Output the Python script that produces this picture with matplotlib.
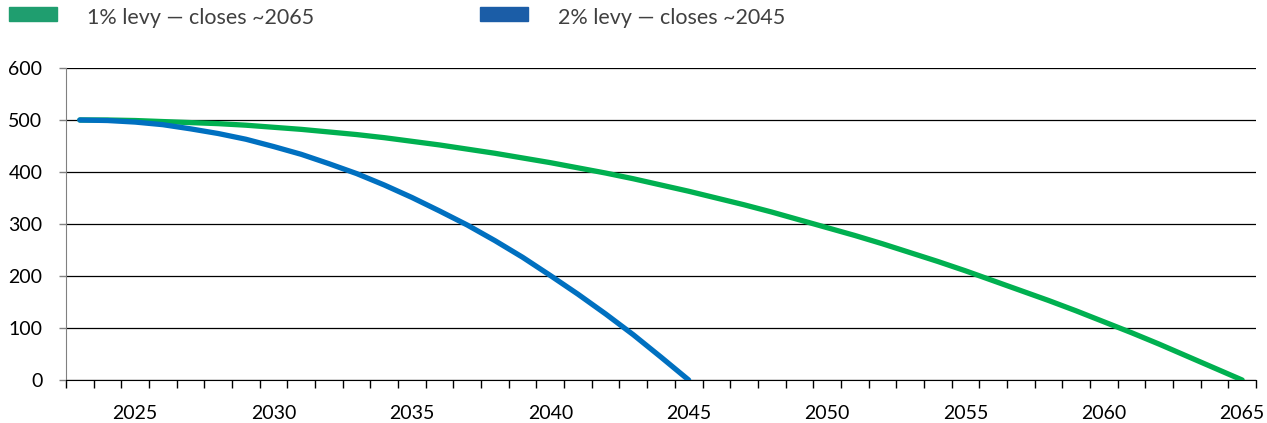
import matplotlib
matplotlib.use("Agg")
import matplotlib.pyplot as plt
from matplotlib.patches import Rectangle
from matplotlib.ticker import MultipleLocator

# datos
anios_1 = list(range(2023, 2066))
saldo_1 = [500, 500, 499, 497, 495, 493, 490, 486, 482, 477,
           472, 466, 459, 452, 444, 436, 427, 418, 408, 398,
           387, 375, 363, 350, 337, 323, 308, 293, 278, 262,
           245, 228, 210, 191, 172, 153, 133, 112, 91, 69,
           46, 23, 0]
anios_2 = list(range(2023, 2046))
saldo_2 = [500, 499, 496, 491, 483, 474, 463, 449, 434, 416,
           397, 375, 351, 325, 298, 268, 236, 201, 165, 127,
           87, 44, 0]
etiquetas = ["1% levy \u2014 closes ~2065", "2% levy \u2014 closes ~2045"]
etiquetas_x = [2025, 2030, 2035, 2040, 2045, 2050, 2055, 2060, 2065]

plt.rcParams['font.family'] = ['Lato', 'DejaVu Sans']

fig = plt.figure(figsize=(12.67, 4.23), dpi=100)
ax = fig.add_axes([66 / 1267, 1 - 380 / 423, 1190 / 1267, 312 / 423])

ax.plot(anios_1, saldo_1, color='#00B050', lw=3.8, solid_capstyle='round', zorder=3)
ax.plot(anios_2, saldo_2, color='#0070C0', lw=3.8, solid_capstyle='round', zorder=3)

ax.set_xlim(2022.5, 2065.5)
ax.set_ylim(0, 600)
ax.set_yticks(range(0, 601, 100))
ax.yaxis.grid(True, color='black', lw=0.9)
ax.set_axisbelow(True)

ax.set_xticks(etiquetas_x)
ax.set_xticklabels([str(a) for a in etiquetas_x])
ax.xaxis.set_minor_locator(MultipleLocator(1, offset=0.5))
ax.tick_params(axis='x', which='major', length=0, pad=18, labelsize=14, labelcolor='black')
ax.tick_params(axis='x', which='minor', length=6, width=1, color='black', direction='out')
ax.tick_params(axis='y', length=5, width=1, color='#808080', pad=12, labelsize=14)

for lado in ['top', 'right']:
    ax.spines[lado].set_visible(False)
ax.spines['left'].set_color('#808080')
ax.spines['bottom'].set_color('black')

# leyenda manual arriba
colores_ley = ['#1F9E6F', '#1B5DA7']
pos_x = [9, 480]
for x0, c, txt in zip(pos_x, colores_ley, etiquetas):
    fig.add_artist(Rectangle((x0 / 1267, 1 - 21 / 423), 48 / 1267, 14 / 423,
                             transform=fig.transFigure, color=c))
    fig.text((x0 + 78) / 1267, 1 - 18 / 423, txt, fontsize=15.5, color='#404040',
             va='center', ha='left')

plt.savefig('out.png', dpi=100)
